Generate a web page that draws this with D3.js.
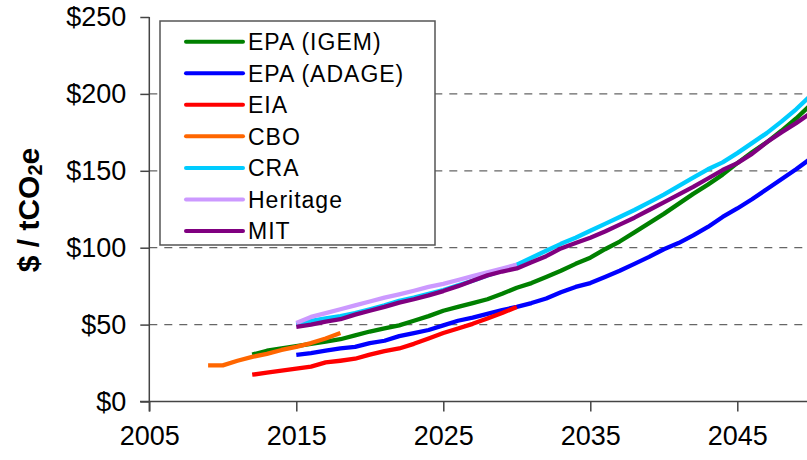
<!DOCTYPE html>
<html>
<head>
<meta charset="utf-8">
<script src="https://cdn.jsdelivr.net/npm/d3@7"></script>
<style>
  body { margin: 0; background: #fff; }
  svg { display: block; font-family: "Liberation Sans", Arial, sans-serif; }
</style>
</head>
<body>
<div id="chart"></div>
<script>
// Data
// =================================
const seriesNames = ["EPA (IGEM)", "EPA (ADAGE)", "EIA", "CBO", "CRA", "Heritage", "MIT"];
const seriesColors = ["#008000", "#0000ff", "#ff0000", "#ff6600", "#00ccff", "#cc99ff", "#800080"];
const startYears = [2012, 2015, 2012, 2009, 2015, 2015, 2015];

const epaIgem = [30.5, 33, 34.5, 36, 37.5, 39, 40.5, 43, 45.5, 47.5, 49.5, 52.5, 55.5, 59, 61.5, 64, 66.5, 70, 74,
  77, 81, 85, 89.5, 93.5, 99, 104, 110, 116, 122, 128.5, 135, 141, 147.5, 155, 162, 168.5, 176, 184, 193];
const epaAdage = [30.3, 31.5, 33, 34.5, 35.5, 38, 39.5, 42.5, 44.5, 46.5, 49.5, 52.5, 54.5, 57, 59.5, 61.5,
  64, 67, 71, 74.5, 77, 81, 85, 89.5, 94, 99, 103, 108, 113.5, 120, 125.5, 131.5, 138, 144.5, 151, 158];
const eia = [17.4, 18.7, 20, 21.3, 22.7, 25.4, 26.5, 27.8, 30.5, 32.8, 34.5, 37.5, 41, 44.5, 47.5, 50.5, 54, 57.5, 61.5];
const cbo = [23.5, 23.5, 26.5, 29, 31, 33.5, 35.5, 38, 41, 44.5];
const cra = [50, 52.5, 54, 55.5, 57.5, 60, 62.5, 65.5, 67.5, 70, 72.5, 75.5, 78.5, 82, 85, 89, 93.5, 98, 102.5,
  106.5, 111, 115.5, 120, 124.5, 129.5, 134.5, 140, 145.5, 151, 155.5, 161.5, 168, 174.5, 182, 190, 199];
const heritage = [51, 55, 57.5, 60, 62.5, 65, 67.5, 69.7, 72, 74.5, 76.5, 79, 81.5, 84, 86.5, 89];
const mit = [48.5, 50, 52, 53.5, 56.5, 59, 61.5, 64.3, 66.5, 69, 71.8, 75, 78.5, 82, 84.5, 86.5, 90.5, 94.5,
  99.5, 103, 106.5, 110.5, 115, 119.5, 124.5, 129.5, 134.5, 139.5, 145, 150.5, 155, 161, 168.5, 175, 181, 187.5];

const seriesValues = [epaIgem, epaAdage, eia, cbo, cra, heritage, mit];

const xTicks = [2005, 2015, 2025, 2035, 2045];
const yTicks = [0, 50, 100, 150, 200, 250];
const gridValues = [50, 100, 150, 200];

// Set up chart
// =================================
const svgWidth = 807;
const svgHeight = 460;

const svg = d3.select("#chart")
  .append("svg")
  .attr("width", svgWidth)
  .attr("height", svgHeight);

const xScale = d3.scaleLinear()
  .domain([2005, 2050])
  .range([149.3, 810.8]);

const yScale = d3.scaleLinear()
  .domain([0, 250])
  .range([401.5, 17]);

// Gridlines
svg.append("g")
  .selectAll("line")
  .data(gridValues)
  .enter()
  .append("line")
  .attr("x1", xScale(2005))
  .attr("x2", svgWidth)
  .attr("y1", d => yScale(d))
  .attr("y2", d => yScale(d))
  .attr("stroke", "#666")
  .attr("stroke-width", 1.3)
  .attr("stroke-dasharray", "8,7");

// Axes
// =================================
const bottomAxis = d3.axisBottom(xScale)
  .tickValues(xTicks)
  .tickSize(10)
  .tickPadding(14)
  .tickFormat(d3.format("d"));

const leftAxis = d3.axisLeft(yScale)
  .tickValues(yTicks)
  .tickSize(9)
  .tickPadding(14)
  .tickFormat(d => "$" + d);

const xAxisG = svg.append("g")
  .attr("transform", `translate(0, ${yScale(0)})`)
  .call(bottomAxis);

const yAxisG = svg.append("g")
  .attr("transform", `translate(${xScale(2005)}, 0)`)
  .call(leftAxis);

xAxisG.select(".domain").attr("d", `M140,0H${svgWidth}`);
yAxisG.select(".domain").attr("d", `M0,${yScale(250)}V${yScale(0) + 10}`);

[xAxisG, yAxisG].forEach(g => {
  g.selectAll(".domain, .tick line").attr("stroke", "#444").attr("stroke-width", 1.5);
  g.selectAll("text")
    .attr("fill", "#000")
    .style("font-size", "27px")
    .style("font-family", "'Liberation Sans', Arial, sans-serif");
});
xAxisG.selectAll("text").attr("dy", "0.71em");

// Y axis title
const yTitle = svg.append("text")
  .attr("transform", "translate(39, 210) rotate(-90)")
  .attr("text-anchor", "middle")
  .style("font-size", "30px")
  .style("font-weight", "bold");
yTitle.append("tspan").text("$ / tCO");
yTitle.append("tspan").style("font-size", "20px").attr("dy", 3).text("2");
yTitle.append("tspan").attr("dy", -3).text("e");

// Lines
// =================================
const line = d3.line()
  .x(d => xScale(d.year))
  .y(d => yScale(d.value));

const lineData = seriesNames.map((name, i) => ({
  name: name,
  color: seriesColors[i],
  points: seriesValues[i].map((v, j) => ({ year: startYears[i] + j, value: v }))
}));

svg.append("g")
  .selectAll("path")
  .data(lineData)
  .enter()
  .append("path")
  .attr("d", d => line(d.points))
  .attr("fill", "none")
  .attr("stroke", d => d.color)
  .attr("stroke-width", 4.3)
  .attr("stroke-linejoin", "round");

// Legend
// =================================
const legend = svg.append("g");

legend.append("rect")
  .attr("x", 160)
  .attr("y", 21)
  .attr("width", 275)
  .attr("height", 224)
  .attr("fill", "#fff")
  .attr("stroke", "#555")
  .attr("stroke-width", 1.5);

const legendRows = legend.selectAll("g.row")
  .data(lineData)
  .enter()
  .append("g")
  .attr("class", "row")
  .attr("transform", (d, i) => `translate(0, ${41.7 + i * 31.55})`);

legendRows.append("line")
  .attr("x1", 186)
  .attr("x2", 243)
  .attr("stroke", d => d.color)
  .attr("stroke-width", 4)
  .attr("stroke-linecap", "round");

legendRows.append("text")
  .attr("x", 248)
  .attr("dy", "0.36em")
  .style("font-size", "23px")
  .style("letter-spacing", "1px")
  .text(d => d.name);
</script>
</body>
</html>
